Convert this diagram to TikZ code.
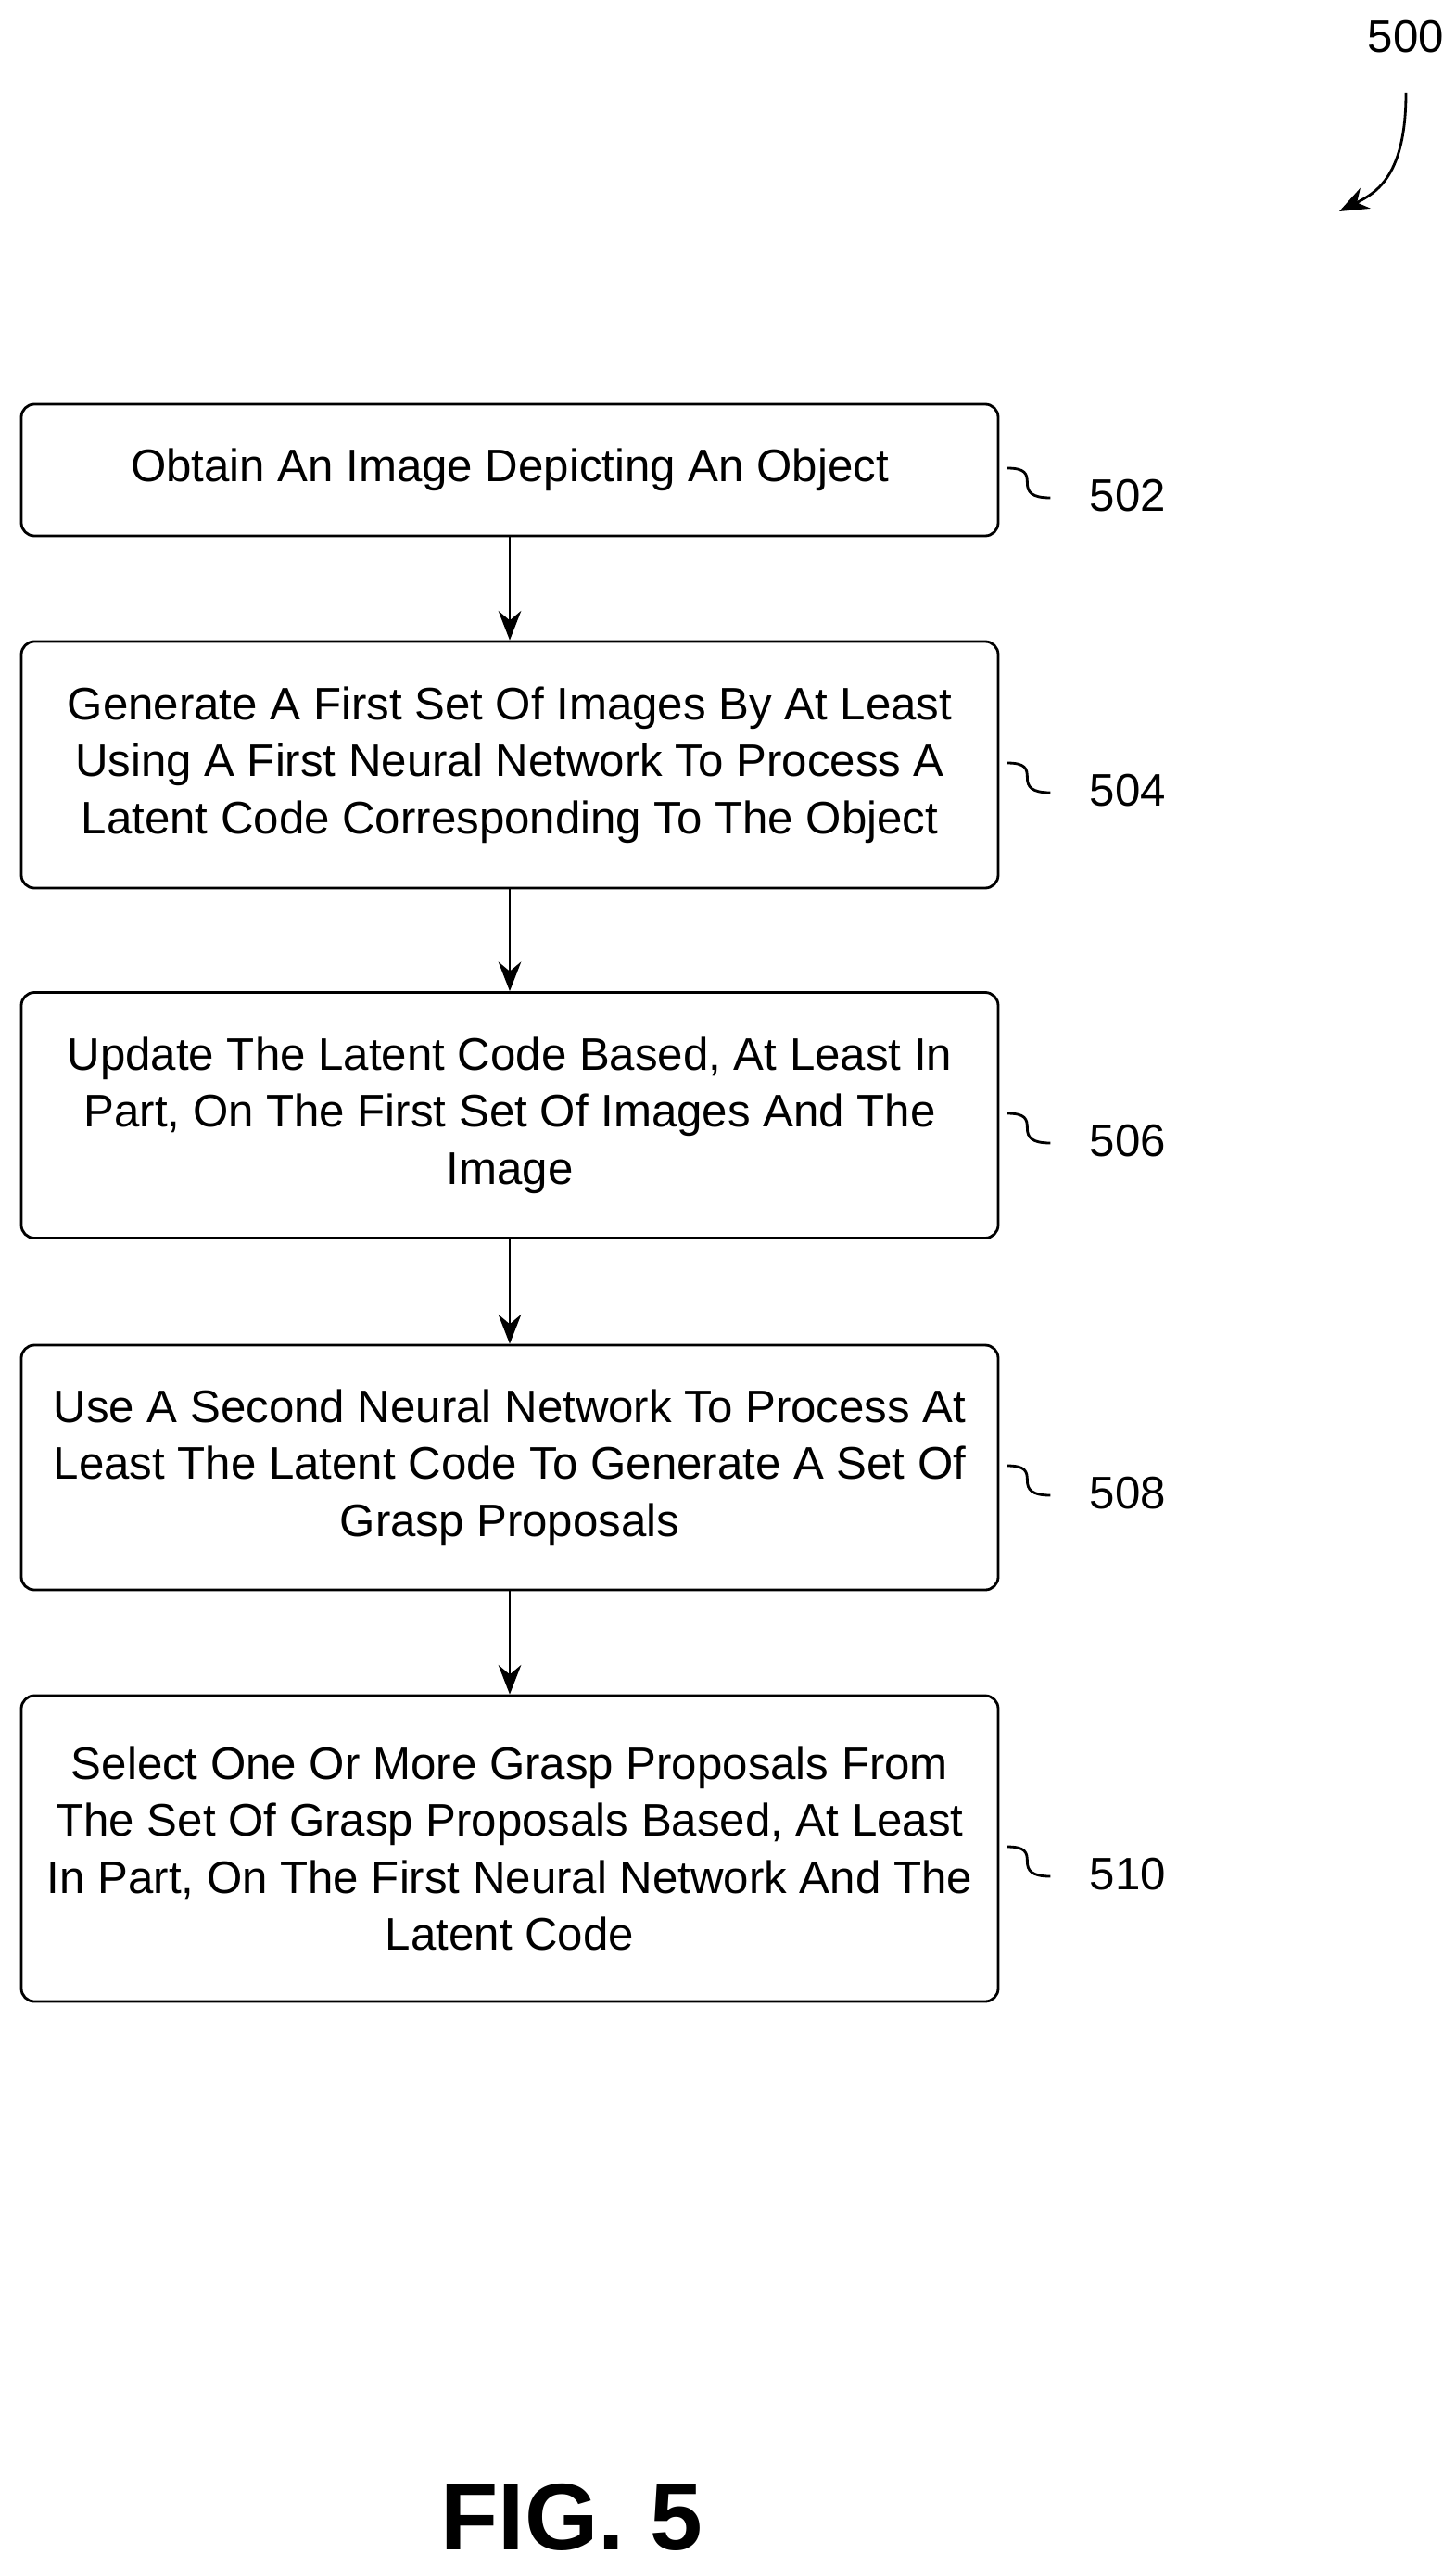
\documentclass[tikz,border=0pt]{standalone}
\usepackage{fontspec}
\setmainfont{Liberation Sans}
\usetikzlibrary{arrows.meta}
\tikzstyle{stepbox} = [draw, thick, rounded corners=4pt, minimum width=10.54cm, align=center, font=\fontsize{14}{17.5}\selectfont]
\tikzstyle{ref} = [font=\fontsize{14}{17.5}\selectfont, anchor=west]
\tikzstyle{line} = [draw, thick, -{Stealth[length=9pt,width=7pt]}]
\begin{document}
\begin{tikzpicture}
	\useasboundingbox (0,0) rectangle (15.7,-27.69);
	
	\node [stepbox, minimum height=1.42cm] (s502) at (5.5,-5.07) {Obtain An Image Depicting An Object};
	\node [stepbox, minimum height=2.66cm] (s504) at (5.5,-8.25) {Generate A First Set Of Images By At Least\\Using A First Neural Network To Process A\\Latent Code Corresponding To The Object};
	\node [stepbox, minimum height=2.65cm] (s506) at (5.5,-12.03) {Update The Latent Code Based, At Least In\\Part, On The First Set Of Images And The\\Image};
	\node [stepbox, minimum height=2.64cm] (s508) at (5.5,-15.83) {Use A Second Neural Network To Process At\\Least The Latent Code To Generate A Set Of\\Grasp Proposals};
	\node [stepbox, minimum height=3.3cm] (s510) at (5.5,-19.94) {Select One Or More Grasp Proposals From\\The Set Of Grasp Proposals Based, At Least\\In Part, On The First Neural Network And The\\Latent Code};
	
	\path [line] (s502.south) to (s504.north);
	\path [line] (s504.south) to (s506.north);
	\path [line] (s506.south) to (s508.north);
	\path [line] (s508.south) to (s510.north);
	
	% reference numerals
	\foreach \n in {502,504,506,508,510} {
		\node [ref] (r\n) at ([xshift=0.85cm, yshift=-0.28cm]s\n.east) {\n};
		\draw [thick] ([xshift=0.08cm, yshift=0.02cm]s\n.east) .. controls +(0.2,0) and +(0,0.1) .. ([xshift=0.3cm, yshift=-0.14cm]s\n.east) .. controls +(0,-0.1) and +(-0.2,0) .. ([xshift=0.55cm, yshift=-0.3cm]s\n.east);
	}
	
	\node [font=\fontsize{14}{17.5}\selectfont] (r500) at (15.17,-0.4) {500};
	\coordinate (tip500) at (14.45,-2.28);
	\path [line] ([yshift=-0.3cm]r500.south) .. controls +(0,-0.9) and +(0.4,0.2) .. (tip500);
	
	\node [font=\fontsize{29}{34}\selectfont\bfseries] (fig) at (6.17,-27.15) {FIG. 5};
\end{tikzpicture}
\end{document}
